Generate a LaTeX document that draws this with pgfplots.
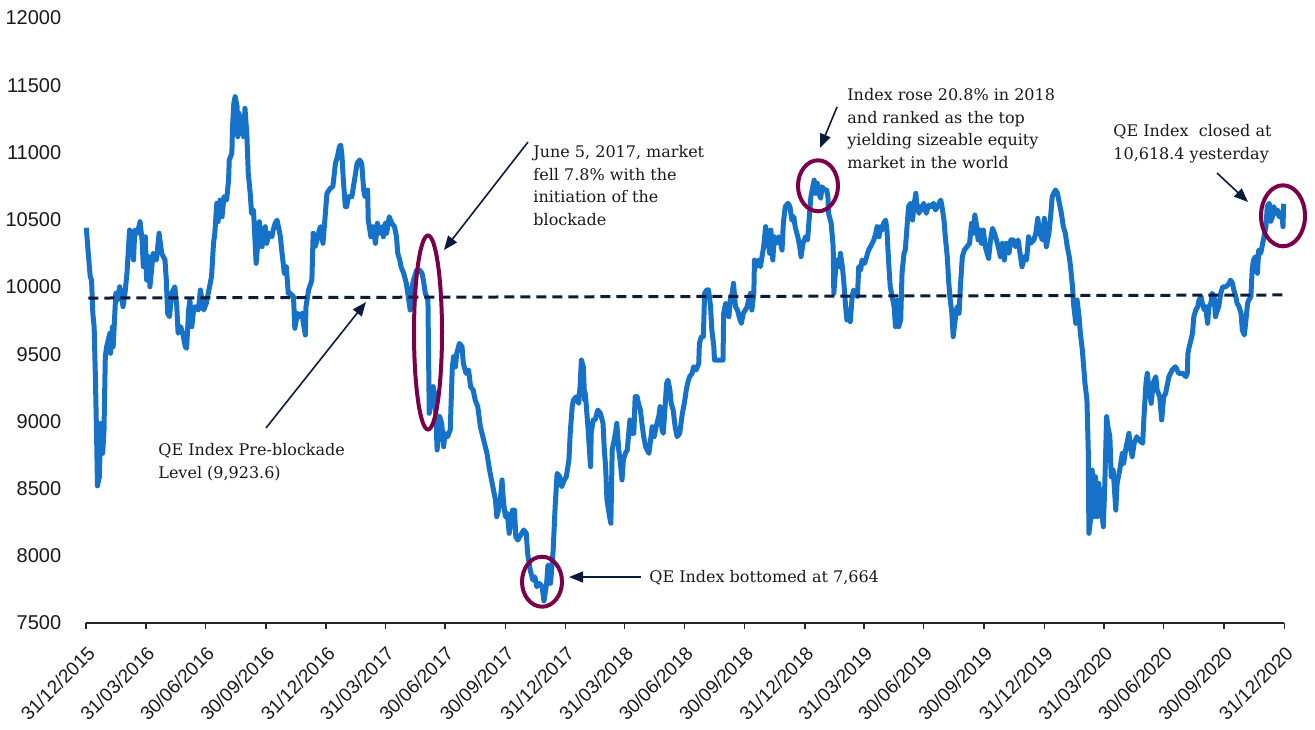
\documentclass[border=0pt]{standalone}
\usepackage{pgfplots}
\usepackage{pgfplotstable}
\pgfplotsset{compat=1.18}
\usepackage{fontspec}
\setmainfont{DejaVu Serif}
\newfontfamily\ticksans{Liberation Sans}
\usetikzlibrary{arrows.meta}
\definecolor{qeblue}{RGB}{22,114,200}
\definecolor{navy}{RGB}{12,26,60}
\definecolor{hlmaroon}{RGB}{122,0,74}

\pgfplotstableread{
day value
0 10440
3 10250
6 10076
8 10051
10 9800
12 9700
14 9300
16 8810
17 8520
20 8590
22 8985
25 8762
27 8936
29 9481
31 9555
36 9655
37 9506
40 9704
41 9555
45 9952
47 9903
51 10001
56 9853
59 9952
62 10101
66 10423
69 10349
72 10200
74 10423
78 10399
82 10485
85 10349
87 10150
90 10373
92 10051
95 10225
97 10001
102 10250
107 10200
111 10399
115 10250
120 10200
122 10051
124 9804
127 9778
130 9952
135 10001
138 9853
140 9655
144 9704
147 9655
151 9555
153 9543
156 9828
158 9903
161 9704
163 9804
166 9853
171 9828
174 9977
179 9828
183 9878
186 9952
191 10076
194 10324
196 10399
199 10622
201 10485
204 10646
207 10522
210 10671
214 10646
217 10795
218 10944
222 10994
223 11192
225 11366
227 11415
230 11340
231 11117
233 11291
236 11142
238 11241
240 11117
242 11328
245 11117
247 10845
250 10696
252 10547
255 10572
259 10175
262 10349
264 10485
268 10299
270 10373
273 10448
275 10324
279 10399
283 10373
285 10423
288 10473
291 10497
293 10448
296 10373
298 10274
302 10101
305 10150
308 9952
311 9952
316 9927
318 9692
322 9804
325 9778
329 9804
331 9729
334 9642
335 9853
339 9977
344 10051
346 10399
349 10299
352 10349
354 10399
357 10448
361 10324
363 10448
367 10696
372 10733
376 10745
380 10919
383 10968
386 11043
388 11055
390 10968
392 10795
395 10597
397 10597
400 10671
405 10671
409 10795
413 10919
417 10944
420 10919
423 10721
425 10671
429 10721
430 10497
434 10373
437 10448
441 10324
444 10473
447 10399
451 10448
453 10373
456 10473
458 10399
462 10522
466 10473
470 10448
473 10373
475 10250
478 10200
480 10150
484 10101
488 10027
491 9927
494 9828
497 10001
499 10051
504 10126
508 10126
512 10101
514 10051
517 9952
521 9903
523 9060
526 9134
529 9258
532 9183
535 8787
539 9035
542 8985
545 8811
547 8911
551 8886
555 8936
558 9382
560 9481
563 9406
565 9506
569 9580
573 9555
575 9432
579 9357
583 9382
586 9258
590 9233
593 9159
597 9109
601 8960
606 8861
611 8762
615 8638
621 8489
624 8415
626 8291
631 8390
634 8564
636 8415
639 8291
642 8316
645 8167
648 8266
650 8340
653 8340
655 8142
658 8117
661 8142
664 8167
667 8192
671 8167
673 8018
677 7894
681 7820
684 7844
687 7770
691 7795
695 7770
698 7664
702 7795
704 7931
705 7919
708 7795
712 8043
715 8365
718 8613
722 8588
725 8514
729 8564
732 8588
736 8712
738 8911
741 9109
743 9159
747 9183
751 9134
753 9258
755 9456
758 9406
760 9159
761 9208
765 8960
769 8663
770 8911
773 9010
776 9010
780 9084
784 9060
788 8985
790 8787
792 8663
794 8415
798 8291
800 8242
802 8787
804 8837
807 8911
809 8985
812 8787
814 8712
817 8564
819 8712
822 8762
825 8787
829 9010
832 8911
835 8911
837 9183
840 9183
842 9134
845 9084
848 8960
850 8886
853 8811
858 8762
860 8837
863 8960
866 8886
869 8960
873 9035
875 9109
878 8936
880 8911
885 9283
887 9307
890 9233
892 9134
895 9084
898 8960
901 8886
905 8911
909 9060
912 9134
915 9233
917 9283
920 9332
924 9357
926 9406
930 9382
934 9432
935 9580
938 9630
941 9630
943 9952
946 9977
949 9977
952 9853
954 9679
957 9555
958 9456
971 9456
972 9804
975 9878
977 9853
980 9778
982 9903
985 9952
987 10027
990 9853
993 9828
997 9754
999 9729
1002 9804
1005 9828
1008 9853
1010 9903
1013 9952
1015 9828
1018 9952
1019 10200
1022 10150
1025 10200
1028 10150
1033 10299
1036 10448
1039 10373
1042 10250
1044 10423
1047 10200
1049 10373
1052 10324
1056 10373
1058 10349
1061 10274
1063 10473
1066 10597
1070 10622
1073 10597
1076 10497
1079 10522
1081 10448
1085 10373
1088 10299
1090 10225
1093 10324
1097 10373
1100 10349
1103 10547
1105 10671
1108 10745
1110 10795
1112 10696
1115 10770
1117 10696
1120 10659
1122 10745
1126 10721
1129 10721
1131 10671
1132 10547
1136 10473
1139 10299
1140 9952
1143 10150
1145 10200
1148 10150
1150 10250
1153 10150
1155 10051
1158 9853
1160 9754
1163 9828
1165 9741
1168 9927
1170 9977
1173 9952
1176 9927
1178 10150
1181 10126
1183 10200
1187 10175
1190 10225
1193 10274
1196 10299
1201 10349
1204 10399
1206 10448
1209 10373
1211 10448
1214 10423
1216 10473
1219 10497
1221 10423
1224 10150
1226 10001
1229 9927
1232 9853
1234 9704
1237 9903
1239 9704
1242 9754
1244 10101
1247 10250
1249 10274
1252 10473
1254 10597
1257 10622
1260 10497
1262 10597
1265 10696
1267 10597
1270 10547
1272 10597
1275 10572
1277 10622
1281 10547
1285 10609
1289 10597
1292 10622
1295 10572
1298 10597
1303 10646
1305 10597
1308 10497
1310 10373
1313 10225
1315 10051
1317 9927
1320 9804
1322 9630
1325 9754
1328 9853
1331 9804
1333 10001
1336 10225
1339 10274
1343 10299
1347 10324
1350 10473
1353 10399
1355 10535
1358 10448
1360 10349
1363 10423
1365 10324
1368 10423
1371 10299
1376 10212
1379 10349
1382 10436
1385 10399
1388 10349
1392 10274
1394 10225
1397 10324
1400 10200
1403 10324
1407 10250
1410 10349
1414 10349
1417 10299
1421 10349
1424 10250
1427 10150
1431 10225
1434 10200
1437 10373
1440 10324
1445 10349
1448 10399
1451 10510
1454 10399
1458 10349
1461 10510
1464 10299
1468 10399
1471 10547
1473 10671
1478 10721
1481 10696
1483 10646
1487 10547
1490 10448
1493 10399
1496 10299
1499 10225
1501 10150
1504 10001
1506 9853
1509 9729
1511 9903
1514 9778
1516 9655
1519 9531
1523 9283
1526 9159
1528 8787
1529 8167
1532 8291
1534 8638
1537 8291
1539 8588
1542 8291
1544 8539
1547 8390
1551 8216
1553 8489
1556 9035
1558 8960
1561 8886
1563 8588
1566 8638
1570 8340
1572 8539
1576 8638
1580 8762
1582 8688
1585 8787
1588 8861
1590 8911
1593 8787
1595 8737
1598 8837
1602 8886
1605 8861
1611 8837
1613 9035
1616 9283
1618 9357
1621 9233
1624 9134
1627 9283
1631 9332
1633 9233
1637 9183
1640 9010
1643 9183
1646 9208
1649 9283
1651 9332
1656 9382
1661 9406
1666 9357
1672 9357
1677 9332
1679 9357
1680 9506
1682 9555
1684 9592
1687 9655
1689 9778
1692 9828
1695 9853
1697 9903
1700 9927
1702 9878
1705 9828
1707 9853
1710 9729
1712 9853
1715 9878
1717 9952
1720 9927
1722 9778
1725 9828
1727 9853
1730 9952
1733 10001
1738 10001
1743 10027
1745 10051
1748 10027
1750 9977
1753 9927
1755 9878
1758 9853
1761 9804
1763 9679
1766 9642
1768 9729
1771 9878
1773 9903
1776 9927
1778 10126
1780 10200
1783 10225
1786 10101
1788 10274
1791 10250
1794 10324
1796 10373
1799 10448
1801 10597
1804 10622
1806 10485
1809 10522
1811 10597
1814 10547
1817 10572
1819 10522
1822 10547
1824 10497
1825 10448
1826 10618.4
}\qedata

\begin{document}
\begin{tikzpicture}
\begin{axis}[
  at={(0,0)}, anchor=south west,
  scale only axis, width=599pt, height=302.5pt,
  xmin=0, xmax=1827, ymin=7500, ymax=12000,
  axis x line*=bottom, axis y line*=left,
  y axis line style={draw=none},
  x axis line style={line width=1pt, color=black!85},
  ytick={7500,8000,...,12000},
  scaled y ticks=false,
  ytick style={draw=none},
  xtick={0,91,182,274,366,456,547,639,731,821,912,1004,1096,1186,1277,1369,1461,1552,1643,1735,1827},
  xticklabels={31/12/2015,31/03/2016,30/06/2016,30/09/2016,31/12/2016,31/03/2017,30/06/2017,30/09/2017,31/12/2017,31/03/2018,30/06/2018,30/09/2018,31/12/2018,31/03/2019,30/06/2019,30/09/2019,31/12/2019,31/03/2020,30/06/2020,30/09/2020,31/12/2020},
  tick align=outside,
  major tick length=3pt,
  xtick style={line width=0.8pt, color=black!85},
  ticklabel style={font=\ticksans\fontsize{10}{12}\selectfont, text=black!90},
  yticklabel style={xshift=-6pt},
  xticklabel style={font=\ticksans\fontsize{9.5}{11}\selectfont, rotate=45, anchor=north east},
  xticklabel shift=3pt,
  /pgf/number format/1000 sep={},
  /pgf/number format/assume math mode=true,
  clip=false,
]
\addplot[qeblue, line width=2.5pt, line join=round, no markers] table[x=day, y=value] {\qedata};
\addplot[navy, line width=1.5pt, dash pattern=on 5pt off 3pt, no markers] coordinates {(3,9917) (1826,9940)};
\end{axis}
\begin{scope}[x=0.5pt, y=-0.5pt, shift={(-86.3,-623)}]
  % highlight ellipses
  \draw[hlmaroon, line width=2pt] (428,332.5) ellipse [x radius=14, y radius=97];
  \draw[hlmaroon, line width=2pt] (542,581.7) ellipse [x radius=20, y radius=25];
  \draw[hlmaroon, line width=2pt] (818,185.8) ellipse [x radius=20, y radius=25.5];
  \draw[hlmaroon, line width=2pt] (1283,215.8) ellipse [x radius=22, y radius=30.5];
  % arrows
  \begin{scope}[navy, line width=0.8pt, -{Triangle[length=7pt,width=5.5pt]}]
    \draw (528,142) -- (444,250);
    \draw (266,428) -- (366,302);
    \draw (641,577) -- (569,577);
    \draw (837,107) -- (820,148);
    \draw (1217,173) -- (1248,202);
  \end{scope}
  % texts
  \begin{scope}[every node/.style={anchor=base west, inner sep=0pt, font=\fontsize{8}{10}\selectfont, text=black!90}]
    \node at (533,158) {June 5, 2017, market};
    \node at (533,180.5) {fell 7.8\% with the};
    \node at (533,203) {initiation of the};
    \node at (533,225.5) {blockade};
    \node at (847,101) {Index rose 20.8\% in 2018};
    \node at (847,123.5) {and ranked as the top};
    \node at (847,146) {yielding sizeable equity};
    \node at (847,168.5) {market in the world};
    \node at (1113,137) {QE Index\ \ closed at};
    \node at (1113,160) {10,618.4 yesterday};
    \node at (158,455) {QE Index Pre-blockade};
    \node at (158,478) {Level (9,923.6)};
    \node at (649,582) {QE Index bottomed at 7,664};
  \end{scope}
  \pgfresetboundingbox
  \path[use as bounding box] (0,0) rectangle (1315,729);
\end{scope}
\end{tikzpicture}
\end{document}
